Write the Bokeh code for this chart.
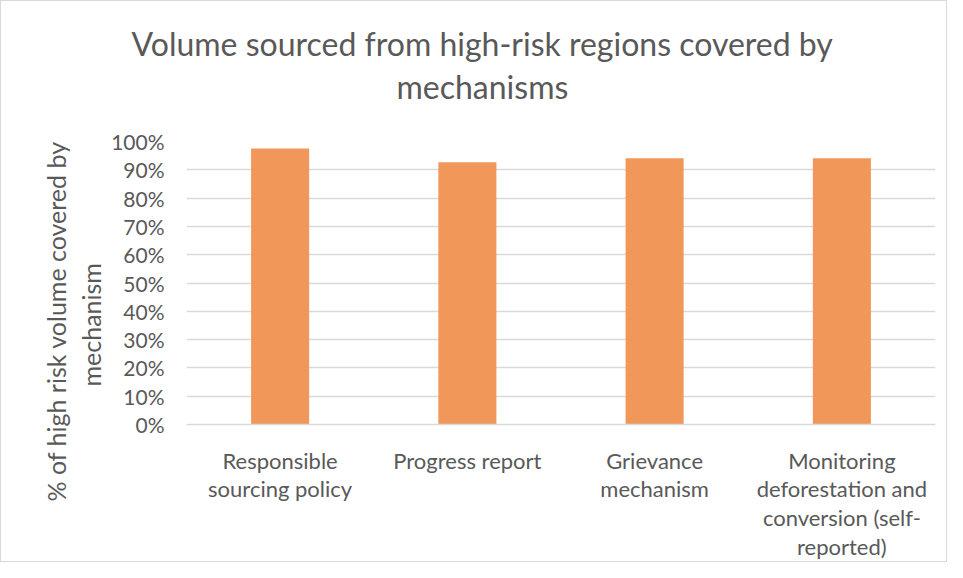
from bokeh.plotting import figure
from bokeh.models import NumeralTickFormatter, FixedTicker, Title
from bokeh.embed import file_html
from bokeh.resources import INLINE

categories = ["Responsible\nsourcing policy", "Progress report", "Grievance\nmechanism",
              "Monitoring\ndeforestation and\nconversion (self-\nreported)"]
values = [0.975, 0.927, 0.941, 0.941]
y_ticks = [0, 0.1, 0.2, 0.3, 0.4, 0.5, 0.6, 0.7, 0.8, 0.9, 1.0]

title_lines = ["Volume sourced from high-risk regions covered by", "mechanisms"]
ylabel_lines = ["% of high risk volume covered by", "mechanism"]

TXT = "#595959"
GRID = "#D9D9D9"
FONT = "Lato"

p = figure(x_range=categories, y_range=(0, 1.0), width=947, height=562,
           output_backend="svg", toolbar_location=None,
           min_border_left=185, min_border_right=13, min_border_top=140, min_border_bottom=134)
p.styles = {"border": "1px solid #D9D9D9", "box-sizing": "border-box"}

p.vbar(x=categories, top=values, width=0.31, color="#F1975A", line_color=None)

p.outline_line_color = None
p.xgrid.grid_line_color = None
p.ygrid.grid_line_color = GRID
p.ygrid.grid_line_width = 1.5
p.yaxis.ticker = FixedTicker(ticks=y_ticks)
p.yaxis.formatter = NumeralTickFormatter(format="0%")
p.yaxis.axis_line_color = None
p.yaxis.major_tick_line_color = None
p.yaxis.minor_tick_line_color = None
p.yaxis.major_label_standoff = 16
p.xaxis.axis_line_color = GRID
p.xaxis.axis_line_width = 1.5
p.xaxis.major_tick_line_color = None
p.xaxis.major_label_standoff = 16
p.xaxis.major_label_text_line_height = 1.07
for ax in (p.xaxis, p.yaxis):
    ax.major_label_text_font = FONT
    ax.major_label_text_color = TXT
p.xaxis.major_label_text_font_size = "22px"
p.yaxis.major_label_text_font_size = "21px"

# title: second line nearest the frame, first line outside it
p.add_layout(Title(text=title_lines[1], align="left", offset=210, standoff=72,
                   text_font=FONT, text_font_size="32px", text_color=TXT, text_font_style="normal"), "above")
p.add_layout(Title(text=title_lines[0], align="left", offset=-55, standoff=-68,
                   text_font=FONT, text_font_size="32px", text_color=TXT, text_font_style="normal"), "above")
# y axis label: second line nearest the axis
p.add_layout(Title(text=ylabel_lines[1], align="left", offset=38, standoff=6,
                   text_font=FONT, text_font_size="25px", text_color=TXT, text_font_style="normal"), "left")
p.add_layout(Title(text=ylabel_lines[0], align="left", offset=-77, standoff=0,
                   text_font=FONT, text_font_size="25px", text_color=TXT, text_font_style="normal"), "left")

open("out.html", "w").write(file_html(p, INLINE))
